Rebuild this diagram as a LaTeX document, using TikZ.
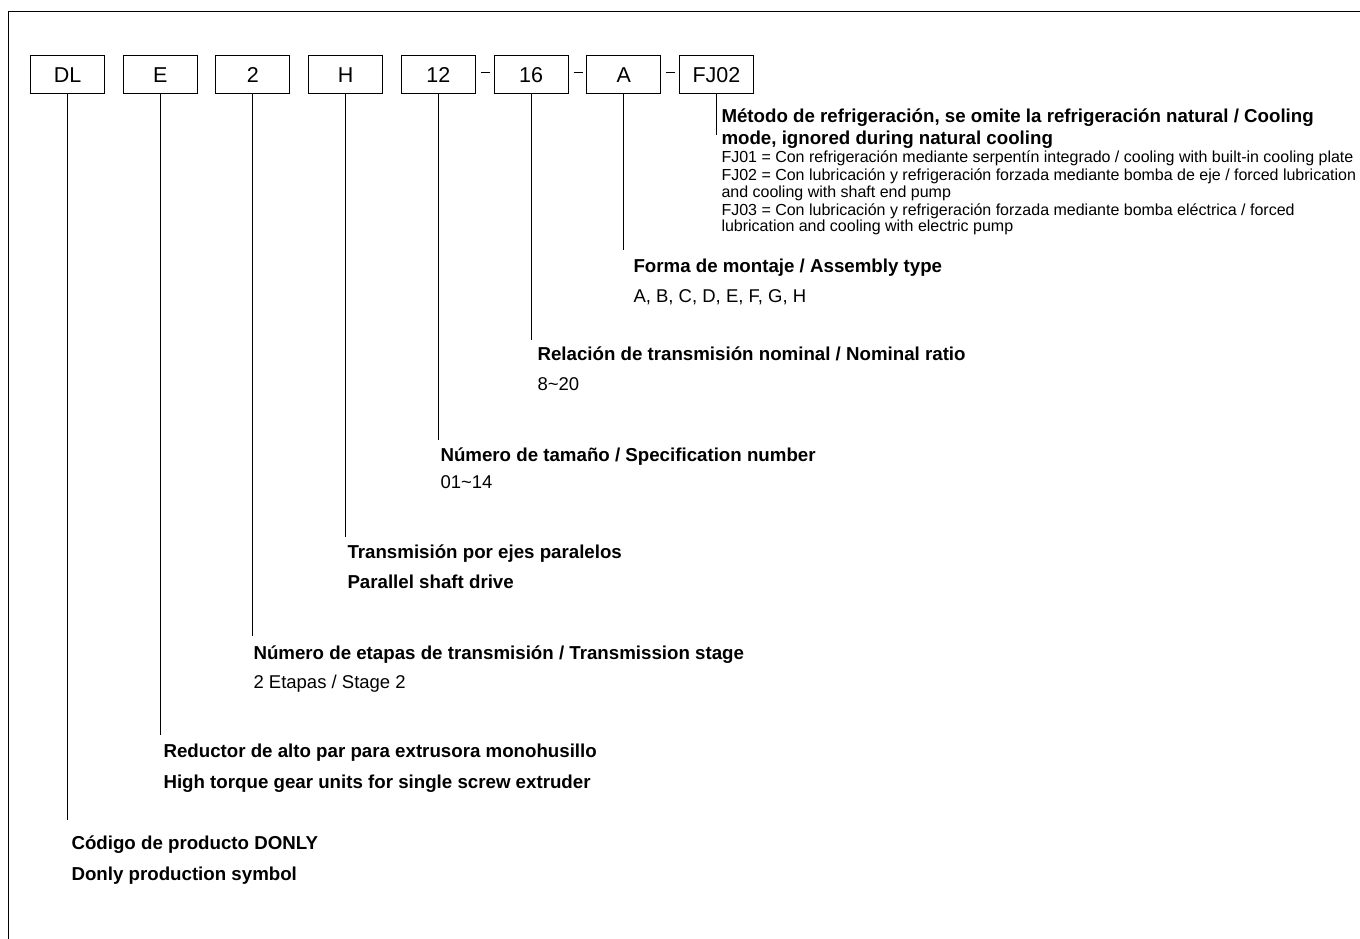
\documentclass[tikz,border=0pt]{standalone}
\usepackage{fontspec}
\setmainfont{Liberation Sans}
\usetikzlibrary{positioning}

\tikzset{
  codebox/.style={draw, minimum width=74pt, minimum height=38pt, inner sep=0pt,
    font=\fontsize{21.5}{24}\selectfont},
  headtxt/.style={anchor=base west, inner sep=0pt, font=\bfseries\fontsize{18.7}{22}\selectfont},
  valtxt/.style={anchor=base west, inner sep=0pt, font=\fontsize{18.5}{22}\selectfont},
  notetxt/.style={anchor=base west, inner sep=0pt, font=\fontsize{16}{19}\selectfont},
  joinbar/.style={shorten <=5pt, shorten >=3.5pt},
}

\begin{document}
\begin{tikzpicture}[x=1pt, y=-1pt, line width=1pt]

  \useasboundingbox (0,0) rectangle (1360,939);
  \clip (0,0) rectangle (1360,939);

  \newcommand\G{17.7pt};

  \draw (8,12) rectangle (1400,1000); %% frame

  %% code boxes
  \node[codebox] (dl) at (67.5,75) {DL};
  \node[codebox, right=\G of dl] (e) {E};
  \node[codebox, right=\G of e] (two) {2};
  \node[codebox, right=\G of two] (h) {H};
  \node[codebox, right=\G of h] (size) {12};
  \node[codebox, right=\G of size] (ratio) {16};
  \node[codebox, right=\G of ratio] (mount) {A};
  \node[codebox, right=\G of mount] (cool) {FJ02};

  %% joining bars
  \draw[joinbar] ([yshift=2pt]size.east) -- ([yshift=2pt]ratio.west);
  \draw[joinbar] ([yshift=2pt]ratio.east) -- ([yshift=2pt]mount.west);
  \draw[joinbar] ([yshift=2pt]mount.east) -- ([yshift=2pt]cool.west);

  %% leader ends
  \coordinate (dlend) at (dl |- 0,820);
  \coordinate (eend) at (e |- 0,735);
  \coordinate (twoend) at (two |- 0,636);
  \coordinate (hend) at (h |- 0,537);
  \coordinate (sizeend) at (size |- 0,440);
  \coordinate (ratioend) at (ratio |- 0,340);
  \coordinate (mountend) at (mount |- 0,250);
  \coordinate (coolend) at (cool |- 0,135);

  \draw (dl) -- (dlend);
  \draw (e) -- (eend);
  \draw (two) -- (twoend);
  \draw (h) -- (hend);
  \draw (size) -- (sizeend);
  \draw (ratio) -- (ratioend);
  \draw (mount) -- (mountend);
  \draw (cool) -- (coolend);

  %% FJ02
  \node[headtxt] (coolh1) at (721,123) {Método de refrigeración, se omite la refrigeración natural / Cooling};
  \node[headtxt] (coolh2) at (721,145) {mode, ignored during natural cooling};
  \node[notetxt] (fj1) at (721,163) {FJ01 = Con refrigeración mediante serpentín integrado / cooling with built-in cooling plate};
  \node[notetxt] (fj2a) at (721,180.5) {FJ02 = Con lubricación y refrigeración forzada mediante bomba de eje / forced lubrication};
  \node[notetxt] (fj2b) at (721,197.5) {and cooling with shaft end pump};
  \node[notetxt] (fj3a) at (721,215) {FJ03 = Con lubricación y refrigeración forzada mediante bomba eléctrica / forced};
  \node[notetxt] (fj3b) at (721,231.5) {lubrication and cooling with electric pump};

  %% A
  \node[headtxt] (mounth) at (633,272) {Forma de montaje / Assembly type};
  \node[valtxt] (mountv) at (633,302) {A, B, C, D, E, F, G, H};

  %% 16
  \node[headtxt] (ratioh) at (537,360) {Relación de transmisión nominal / Nominal ratio};
  \node[valtxt] (ratiov) at (537,390) {8\textasciitilde 20};

  %% 12
  \node[headtxt] (sizeh) at (440,461) {Número de tamaño / Specification number};
  \node[valtxt] (sizev) at (440,488) {01\textasciitilde 14};

  %% H
  \node[headtxt] (hh1) at (347,558) {Transmisión por ejes paralelos};
  \node[headtxt] (hh2) at (347,588) {Parallel shaft drive};

  %% 2
  \node[headtxt] (twoh) at (253,659) {Número de etapas de transmisión / Transmission stage};
  \node[valtxt] (twov) at (253,688) {2 Etapas / Stage 2};

  %% E
  \node[headtxt] (eh1) at (163,757) {Reductor de alto par para extrusora monohusillo};
  \node[headtxt] (eh2) at (163,788) {High torque gear units for single screw extruder};

  %% DL
  \node[headtxt] (dlh1) at (71,849) {Código de producto DONLY};
  \node[headtxt] (dlh2) at (71,880) {Donly production symbol};

\end{tikzpicture}
\end{document}
